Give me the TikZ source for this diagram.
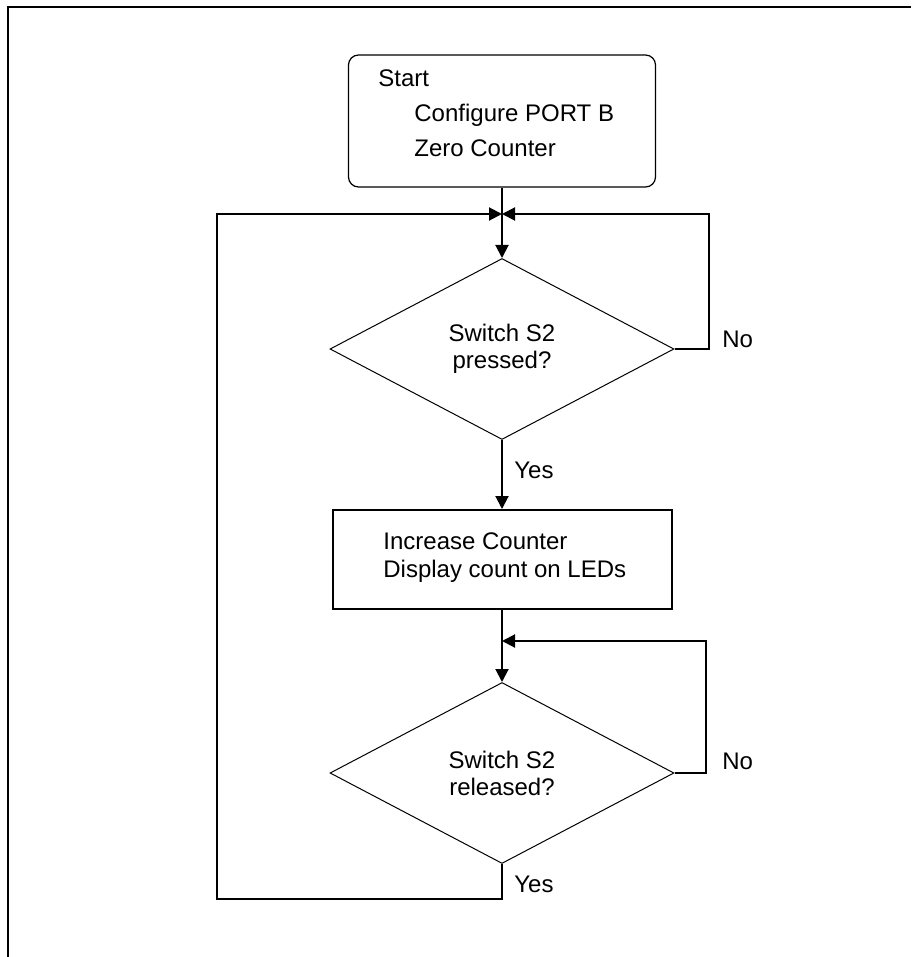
\documentclass[tikz,border=0pt]{standalone}
\usepackage{fontspec}
\setmainfont{Liberation Sans}
\usetikzlibrary{shapes.geometric,arrows.meta}

\begin{document}
\begin{tikzpicture}[x=0.5pt,y=-0.5pt,
        font=\fontsize{12}{13.5}\selectfont,
        flow/.style={line width=1pt,-{Triangle[length=6.5pt,width=6.5pt]}},
        plain/.style={line width=1pt},
        txt/.style={anchor=base west,inner sep=0pt},
        decision/.style={diamond,draw,line width=0.5pt,minimum width=172pt,minimum height=90.5pt,inner sep=0pt,align=center},
        process/.style={rectangle,draw,line width=1pt,minimum width=169.5pt,minimum height=49.5pt}]
                \useasboundingbox (0,0) rectangle (911,957);
                \draw[plain] (8,957) -- (8,7) -- (911,7);

                \node[draw,rounded corners=5pt,line width=0.6pt,minimum width=153.5pt,minimum height=66pt] (start) at (502,121) {};
                \node[txt] (startA) at (378,87) {Start};
                \node[txt] (startB) at (414,122) {Configure PORT B};
                \node[txt] (startC) at (414,157) {Zero Counter};

                \node[decision] (pressed) at (502,349) {Switch S2\\pressed?};
                \node[process] (count) at (502,559.5) {};
                \node[txt] (countA) at (383,549) {Increase Counter};
                \node[txt] (countB) at (383,577) {Display count on LEDs};
                \node[decision] (released) at (502,773) {Switch S2\\released?};

                \coordinate (top) at (502,214);
                \coordinate (mid) at (502,641);
                \coordinate (loopA) at (709,214);
                \coordinate (loopB) at (706,641);
                \coordinate (back) at (217,899);

                \draw[flow] (start) -- (pressed);
                \draw[flow] (pressed) -- (count);
                \draw[flow] (count) -- (released);
                \draw[flow] (pressed.east) -| (loopA) -- (top);
                \draw[flow] (released.east) -| (loopB) -- (mid);
                \draw[flow] (released.south) |- (back) |- (top);

                \node[txt] (yesA) at (514,478) {Yes};
                \node[txt] (yesB) at (514,892) {Yes};
                \node[txt] (noA) at (722,347) {No};
                \node[txt] (noB) at (722,769) {No};
            \end{tikzpicture}
\end{document}
